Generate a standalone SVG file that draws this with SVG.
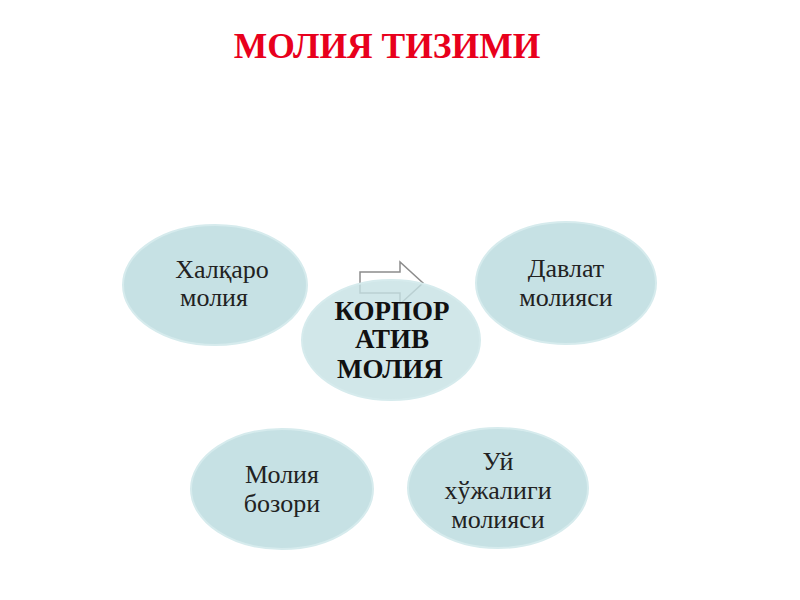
<svg xmlns="http://www.w3.org/2000/svg" width="800" height="600" viewBox="0 0 800 600">
<style>
.n{fill:#c6e1e4;stroke:#d6ebed;stroke-width:2}
.t{font-family:"Liberation Serif",serif;font-size:26px;fill:#222;text-anchor:middle}
.b{font-family:"Liberation Serif",serif;font-size:27px;font-weight:bold;fill:#111;text-anchor:middle}
</style>
<rect width="800" height="600" fill="#fff"/>
<text x="387" y="58" font-family="Liberation Serif,serif" font-size="35.5" font-weight="bold" fill="#e8001c" text-anchor="middle">МОЛИЯ ТИЗИМИ</text>
<g id="connectors">
<path d="M360,272 L400,272 L400,262 L423,283 L400,304 L400,293 L360,293 Z" fill="#fff" stroke="#8c8c8c" stroke-width="1.5"/>
</g>
<g id="halqaro">
<ellipse class="n" cx="215" cy="285" rx="92" ry="60"/>
<text class="t" x="222" y="278">Халқаро</text>
<text class="t" x="214" y="306">молия</text>
</g>
<g id="davlat">
<ellipse class="n" cx="566" cy="283" rx="90" ry="61"/>
<text class="t" x="566" y="277">Давлат</text>
<text class="t" x="566" y="306">молияси</text>
</g>
<g id="korporativ">
<ellipse class="n" cx="391" cy="340" rx="89" ry="60" fill-opacity="0.8"/>
<text class="b" x="392" y="320">КОРПОР</text>
<text class="b" x="392" y="348">АТИВ</text>
<text class="b" x="390" y="378">МОЛИЯ</text>
</g>
<g id="bozori">
<ellipse class="n" cx="282" cy="489" rx="91" ry="60"/>
<text class="t" x="282" y="483">Молия</text>
<text class="t" x="282" y="512">бозори</text>
</g>
<g id="uy">
<ellipse class="n" cx="498" cy="488" rx="90" ry="60"/>
<text class="t" x="498" y="470">Уй</text>
<text class="t" x="498" y="499">хўжалиги</text>
<text class="t" x="498" y="528">молияси</text>
</g>
</svg>
